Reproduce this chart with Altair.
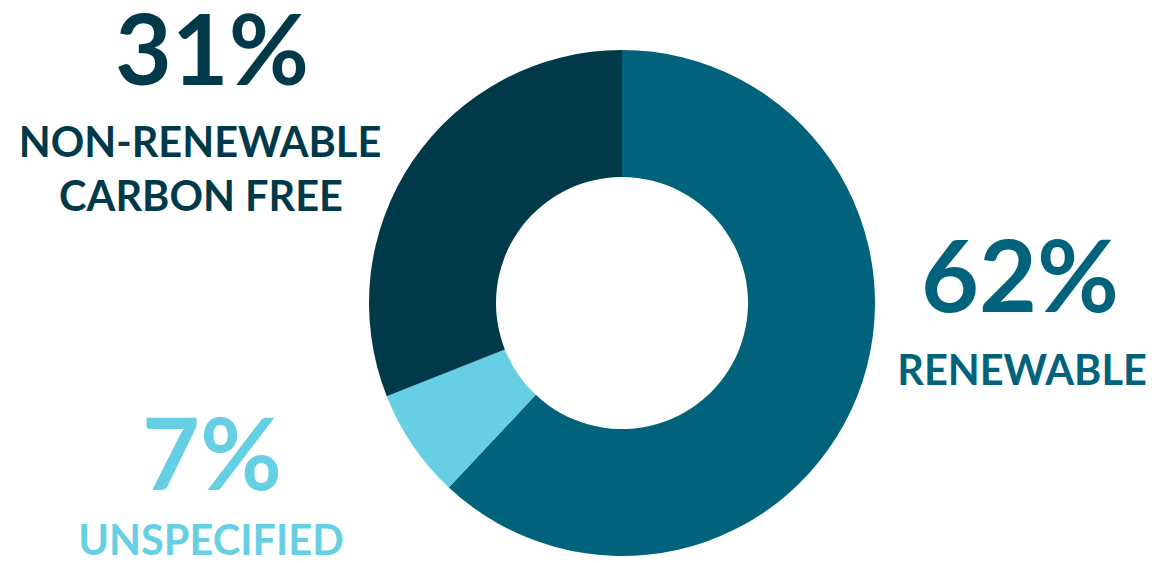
import altair as alt
import pandas as pd

categories = ["RENEWABLE", "UNSPECIFIED", "NON-RENEWABLE CARBON FREE"]
values = [62, 7, 31]
colors = ["#00637b", "#66cfe3", "#003a4a"]

df = pd.DataFrame({"category": categories, "value": values, "order": [0, 1, 2]})

W, H = 1173, 563
CX, CY = 622, 303
FONT = "Lato"

arc = alt.Chart(df).mark_arc(radius=253, radius2=126, stroke=None).encode(
    theta=alt.Theta("value:Q", stack=True),
    order=alt.Order("order:Q"),
    color=alt.Color("category:N", scale=alt.Scale(domain=categories, range=colors), legend=None),
    x=alt.value(CX),
    y=alt.value(CY),
)

def label(text, x, y, size, color):
    return alt.Chart(pd.DataFrame({"t": [text]})).mark_text(
        font=FONT, fontWeight="bold", fontSize=size, color=color,
        align="center", baseline="alphabetic",
    ).encode(text="t:N", x=alt.value(x), y=alt.value(y))

pct = [f"{v}%" for v in values]

layers = [
    arc,
    label(pct[2], 212, 85, 98, colors[2]),
    label("NON-RENEWABLE", 200, 157, 41.5, colors[2]),
    label("CARBON FREE", 201, 211, 41.5, colors[2]),
    label(pct[0], 1020, 312, 100, colors[0]),
    label("RENEWABLE", 1022, 385, 41.5, colors[0]),
    label(pct[1], 212, 490, 100, colors[1]),
    label("UNSPECIFIED", 211, 555, 41.5, colors[1]),
]

chart = alt.layer(*layers).properties(
    width=W, height=H, autosize=alt.AutoSizeParams(type="none"), padding=0
).configure_view(stroke=None)

chart.save("out.html", embed_options={"renderer": "svg", "actions": False})
